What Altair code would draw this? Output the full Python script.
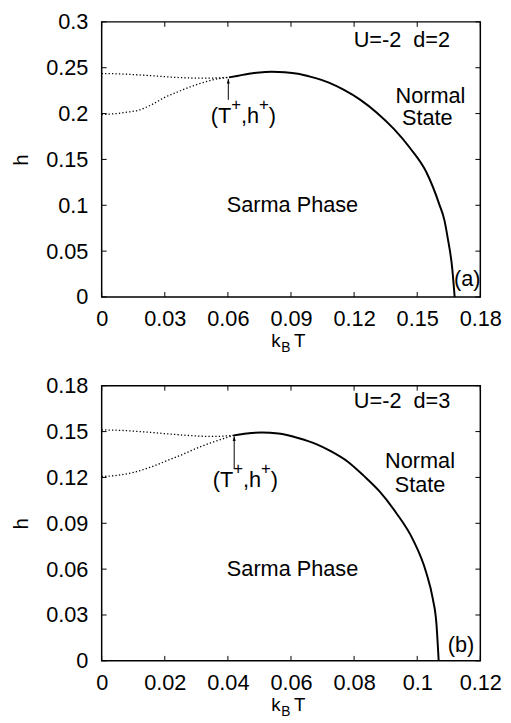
import altair as alt
import pandas as pd

FONT = "Liberation Sans"
W, H = 384, 279

# ---------------- panel (a): U=-2, d=2 ----------------
a_x_ticks = [0, 0.03, 0.06, 0.09, 0.12, 0.15, 0.18]
a_y_ticks = [0, 0.05, 0.1, 0.15, 0.2, 0.25, 0.3]
a_solid_T = [0.0605, 0.0650, 0.0700, 0.0750, 0.0808, 0.0870, 0.0933, 0.0995, 0.1080,
             0.1152, 0.1230, 0.1308, 0.1390, 0.1464, 0.1542, 0.1605, 0.1630, 0.1644,
             0.1667, 0.1678]
a_solid_h = [0.2395, 0.2413, 0.2435, 0.2449, 0.2455, 0.2450, 0.2434, 0.2400, 0.2338,
             0.2258, 0.2150, 0.2010, 0.1830, 0.1630, 0.1368, 0.1010, 0.0830, 0.0656,
             0.0300, 0.0000]
a_upper_T = [0.0, 0.008, 0.016, 0.024, 0.032, 0.040, 0.048, 0.055, 0.0605]
a_upper_h = [0.2437, 0.2433, 0.2424, 0.2412, 0.2399, 0.2390, 0.2386, 0.2389, 0.2395]
a_lower_T = [0.0, 0.006, 0.012, 0.018, 0.024, 0.030, 0.036, 0.042, 0.048, 0.054, 0.0605]
a_lower_h = [0.1990, 0.1998, 0.2015, 0.2040, 0.2100, 0.2177, 0.2235, 0.2290, 0.2337,
             0.2373, 0.2395]
a_arrow = [0.0602, 0.2150, 0.2378]
a_text = ["U=-2\u00a0\u00a0d=2", "Normal", "State", "Sarma Phase", "(a)"]
a_text_T = [0.1427, 0.1563, 0.1548, 0.0907, 0.1738]
a_text_h = [0.2726, 0.2120, 0.1875, 0.0927, 0.0120]
a_point_label = [0.0673, 0.1900]

# ---------------- panel (b): U=-2, d=3 ----------------
b_x_ticks = [0, 0.02, 0.04, 0.06, 0.08, 0.1, 0.12]
b_y_ticks = [0, 0.03, 0.06, 0.09, 0.12, 0.15, 0.18]
b_solid_T = [0.0419, 0.0460, 0.0507, 0.0560, 0.0622, 0.0680, 0.0726, 0.0780, 0.0830,
             0.0880, 0.0934, 0.0986, 0.1028, 0.1049, 0.1061, 0.1068]
b_solid_h = [0.1475, 0.1488, 0.1494, 0.1487, 0.1458, 0.1418, 0.1372, 0.1303, 0.1212,
             0.1110, 0.0966, 0.0795, 0.0581, 0.0410, 0.0240, 0.0000]
b_upper_T = [0.0, 0.007, 0.014, 0.021, 0.028, 0.035, 0.0419]
b_upper_h = [0.1511, 0.1507, 0.1497, 0.1485, 0.1474, 0.1468, 0.1475]
b_lower_T = [0.0, 0.005, 0.0101, 0.0153, 0.0205, 0.0257, 0.0309, 0.0361, 0.0419]
b_lower_h = [0.1206, 0.1214, 0.1233, 0.1266, 0.1308, 0.1351, 0.1398, 0.1437, 0.1475]
b_arrow = [0.0420, 0.1255, 0.1469]
b_text = ["U=-2\u00a0\u00a0d=3", "Normal", "State", "Sarma Phase", "(b)"]
b_text_T = [0.0952, 0.1009, 0.1009, 0.0605, 0.1139]
b_text_h = [0.1655, 0.1262, 0.1105, 0.0556, 0.0058]
b_point_label = [0.0455, 0.1138]

# pieces of "(T+,h+)" : text, dx, dy, size
PL_PIECES = [("(T", -33, 0, 22), ("+", -12.2, -13, 17), (",h", -2.3, 0, 22),
             ("+", 16.0, -13, 17), (")", 25.9, 0, 22)]
# pieces of the x title "kB T": text, x, y, size
XT_PIECES = [("k", 172, H + 51, 19), ("B", 182, H + 56, 14), ("T", 195, H + 51, 19)]


def panel(xt, yt, sT, sh, uT, uh, lT, lh, arrow, txt, txt_T, txt_h, pl):
    xs = alt.Scale(domain=[xt[0], xt[-1]], nice=False, zero=False)
    ys = alt.Scale(domain=[yt[0], yt[-1]], nice=False, zero=False)
    xax = alt.Axis(values=xt, format=".2~f", title=None)
    yax = alt.Axis(values=yt, format=".2~f", title="h")

    def X(f):
        return alt.X(f, type="quantitative", scale=xs, axis=xax)

    def Y(f):
        return alt.Y(f, type="quantitative", scale=ys, axis=yax)

    layers = []
    xtd = pd.DataFrame({"v": xt})
    ytd = pd.DataFrame({"v": yt})
    tick = dict(color="black", strokeWidth=1)
    layers.append(alt.Chart(xtd).mark_rule(**tick).encode(x=X("v"), y=alt.value(H), y2=alt.value(H - 5)))
    layers.append(alt.Chart(xtd).mark_rule(**tick).encode(x=X("v"), y=alt.value(0), y2=alt.value(5)))
    layers.append(alt.Chart(ytd).mark_rule(**tick).encode(y=Y("v"), x=alt.value(0), x2=alt.value(5)))
    layers.append(alt.Chart(ytd).mark_rule(**tick).encode(y=Y("v"), x=alt.value(W - 5), x2=alt.value(W)))

    def curve(T, h, **kw):
        df = pd.DataFrame({"T": T, "h": h, "i": list(range(len(T)))})
        return alt.Chart(df).mark_line(interpolate="monotone", **kw).encode(
            x=X("T"), y=Y("h"), order="i:Q")

    dot = dict(color="black", strokeWidth=1.3, strokeDash=[1.3, 2.2])
    layers.append(curve(uT, uh, **dot))
    layers.append(curve(lT, lh, **dot))
    layers.append(curve(sT, sh, color="black", strokeWidth=2))

    adf = pd.DataFrame({"T": [arrow[0]], "h0": [arrow[1]], "h1": [arrow[2]]})
    layers.append(alt.Chart(adf).mark_rule(color="black", strokeWidth=1).encode(
        x=X("T"), y=Y("h0"), y2=alt.Y2("h1")))
    layers.append(alt.Chart(adf).mark_point(shape="M0,0L-0.32,1L0.32,1Z", filled=True,
                                            color="black", opacity=1, size=90).encode(
        x=X("T"), y=Y("h1")))

    tdf = pd.DataFrame({"text": txt, "T": txt_T, "h": txt_h})
    layers.append(alt.Chart(tdf).mark_text(font=FONT, fontSize=22, align="center",
                                           baseline="alphabetic", color="black").encode(
        x=X("T"), y=Y("h"), text="text:N"))

    pdf = pd.DataFrame({"T": [pl[0]], "h": [pl[1]]})
    for t, dx, dy, sz in PL_PIECES:
        layers.append(alt.Chart(pdf).mark_text(text=t, font=FONT, fontSize=sz, align="left",
                                               baseline="alphabetic", dx=dx, dy=dy,
                                               color="black").encode(x=X("T"), y=Y("h")))

    one = pd.DataFrame({"z": [0]})
    for t, px, py, sz in XT_PIECES:
        layers.append(alt.Chart(one).mark_text(text=t, font=FONT, fontSize=sz, align="left",
                                               baseline="alphabetic", color="black").encode(
            x=alt.value(px), y=alt.value(py)))

    return alt.layer(*layers).properties(width=W, height=H)


pa = panel(a_x_ticks, a_y_ticks, a_solid_T, a_solid_h, a_upper_T, a_upper_h, a_lower_T,
           a_lower_h, a_arrow, a_text, a_text_T, a_text_h, a_point_label)
pb = panel(b_x_ticks, b_y_ticks, b_solid_T, b_solid_h, b_upper_T, b_upper_h, b_lower_T,
           b_lower_h, b_arrow, b_text, b_text_T, b_text_h, b_point_label)

chart = alt.vconcat(pa, pb, spacing=18).properties(
    padding={"left": 3, "top": -3, "right": 0, "bottom": 0}
).configure_view(stroke="black", strokeWidth=1.5).configure_axis(
    domain=False, grid=False, ticks=False, labelFont=FONT, labelFontSize=22,
    labelColor="black", labelFlush=False, labelOverlap=False, titleFont=FONT,
    titleFontSize=20, titleFontWeight="normal", titleColor="black"
).configure_axisX(labelPadding=12).configure_axisY(labelPadding=14, titlePadding=14)

chart.save("out.html", embed_options={"renderer": "svg", "actions": False})
